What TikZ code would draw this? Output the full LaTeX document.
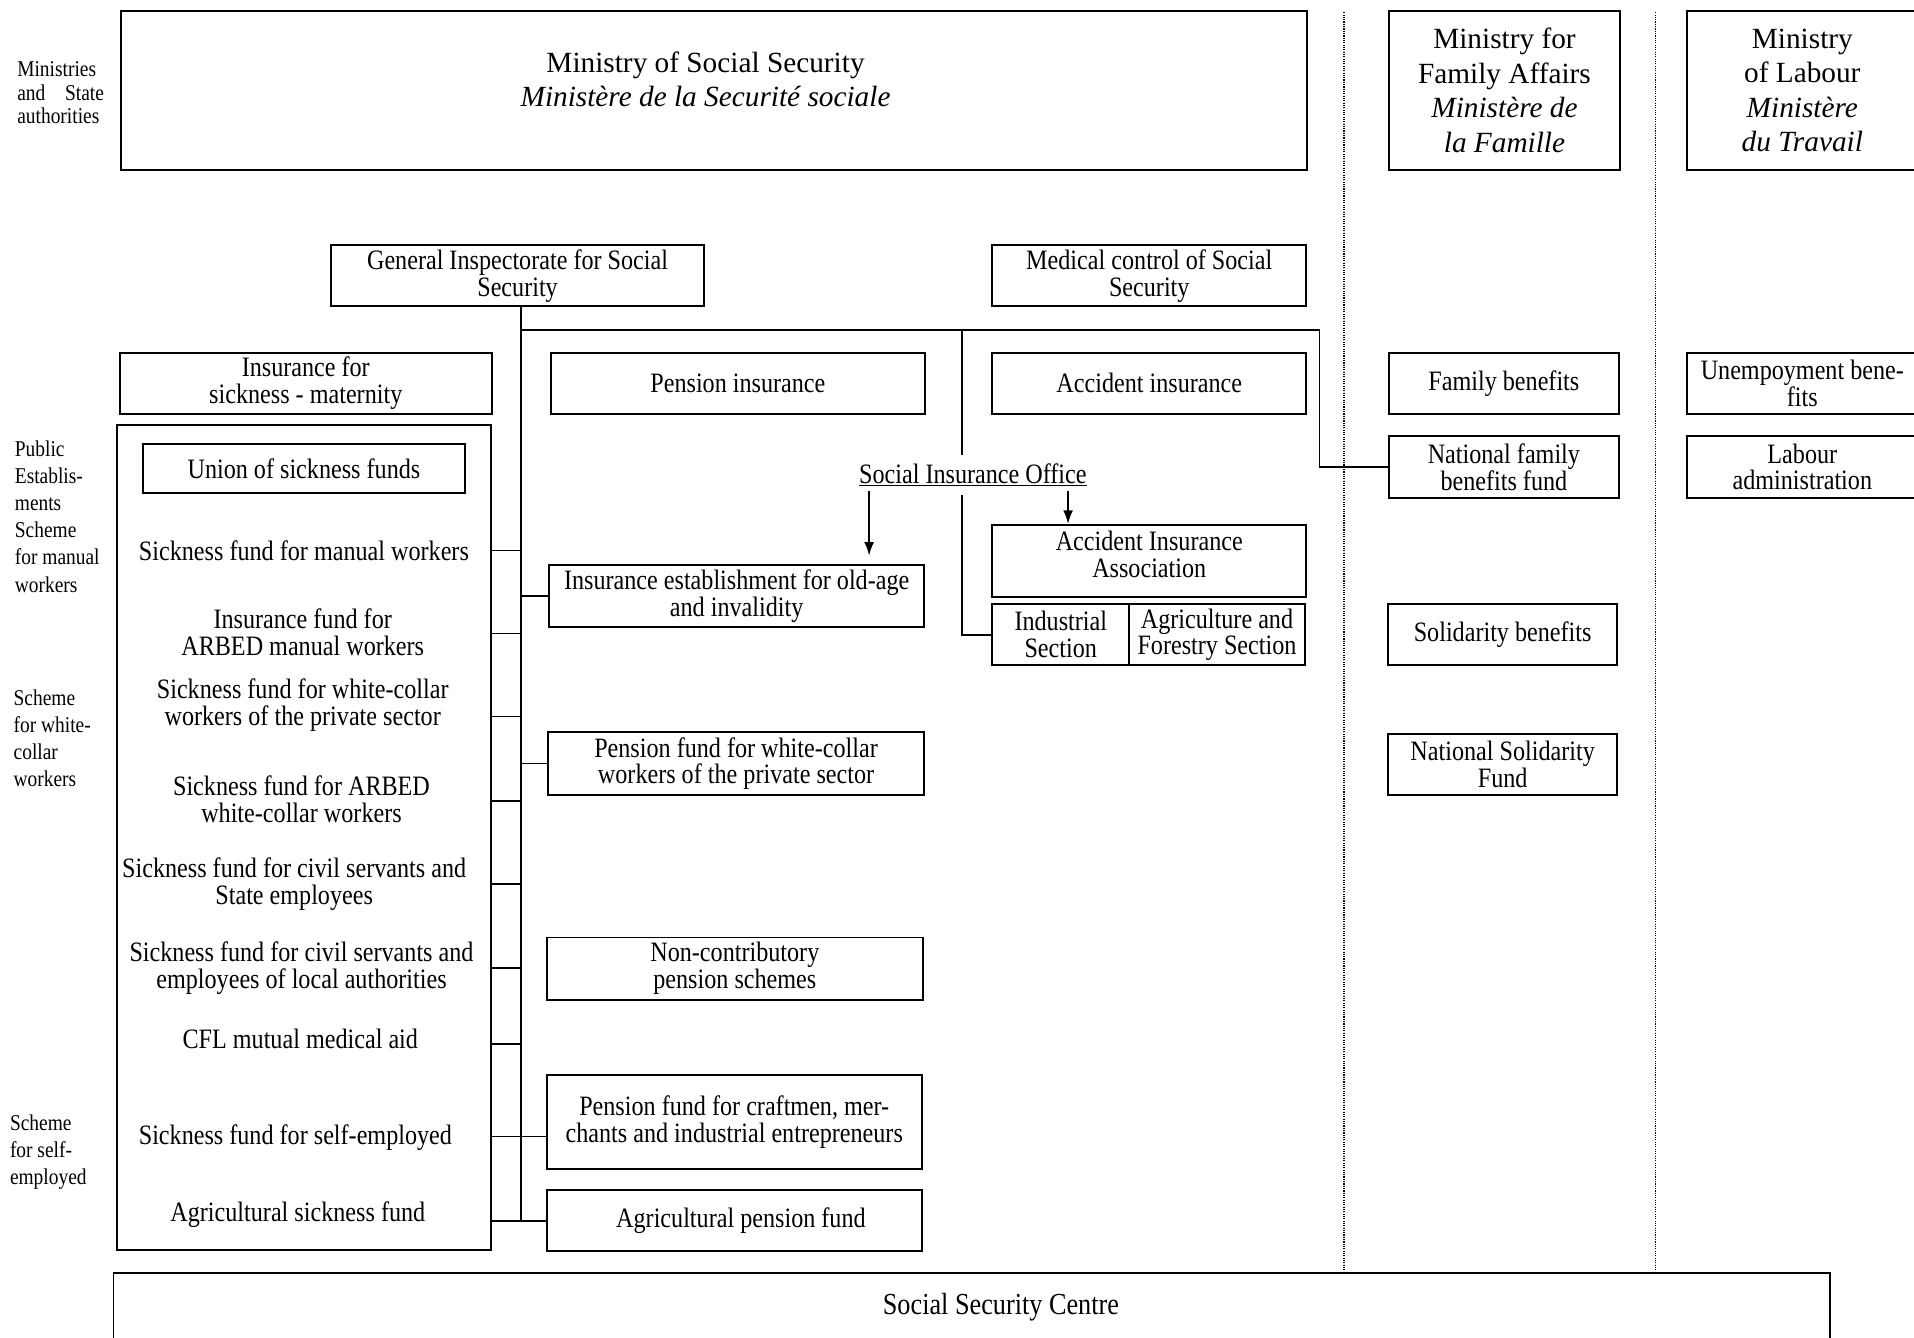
\documentclass[tikz,border=0pt]{standalone}
\usepackage{fontspec}
\setmainfont{Liberation Serif}
\newfontfamily\cond[FakeStretch=0.86]{Liberation Serif}
\usetikzlibrary{arrows.meta}
\newcommand\bx{\cond\fontsize{23}{22}\selectfont}
\newcommand\sidefont{\cond\fontsize{18.5}{22.2}\selectfont}
\newcommand\minfont{\fontsize{24}{28.3}\selectfont}
\begin{document}
\begin{tikzpicture}[x=1pt,y=-1pt,
  box/.style={draw, line width=1.6pt, align=center, inner sep=0pt, font=\bx},
  txt/.style={align=center, inner sep=0pt, font=\bx},
  side/.style={align=left, anchor=north west, inner sep=0pt, font=\sidefont},
  link/.style={line width=1.5pt},
  guide/.style={densely dotted, line width=0.9pt},
  arr/.style={line width=1.4pt, -{Latex[length=11pt,width=8pt]}}]
\useasboundingbox (0,0) rectangle (1568,1096);
\clip (0,0) rectangle (1568,1096);

% ministries
\node[box, minimum width=972pt, minimum height=130pt] (mss) at (585,74) {};
\node[txt, font=\minfont] (msst) at (578,65) {Ministry of Social Security\\{\itshape Ministère de la Securité sociale}};
\node[box, minimum width=189pt, minimum height=130pt, font=\minfont] (mfa) at (1232.5,74) {Ministry for\\Family Affairs\\{\itshape Ministère de}\\{\itshape la Famille}};
\node[box, minimum width=189pt, minimum height=130pt, font=\minfont] (mlab) at (1476.5,74) {Ministry\\of Labour\\{\itshape Ministère}\\{\itshape du Travail}};

% supervision
\node[box, minimum width=306pt, minimum height=50pt] (gi) at (424,226) {General Inspectorate for Social\\Security};
\node[box, minimum width=257pt, minimum height=50pt] (mc) at (941.5,226) {Medical control of Social\\Security};

% branches
\node[box, minimum width=305pt, minimum height=50pt] (ism) at (250.5,314) {Insurance for\\sickness - maternity};
\node[box, minimum width=307pt, minimum height=50pt] (pi) at (604.5,314) {Pension insurance};
\node[box, minimum width=257pt, minimum height=50pt] (ai) at (941.5,314) {Accident insurance};
\node[box, minimum width=188pt, minimum height=50pt] (fb) at (1232,314) {Family benefits};
\node[box, minimum width=189pt, minimum height=50pt] (ub) at (1476.5,314) {Unempoyment bene-\\fits};

% sickness funds
\node[box, minimum width=306pt, minimum height=676pt] (cont) at (249,686) {};
\node[box, minimum width=264pt, minimum height=40pt] (usf) at (249,384) {Union of sickness funds};
\node[txt] (sf1) at (249,451) {Sickness fund for manual workers};
\node[txt] (sf2) at (248,518) {Insurance fund for\\ARBED manual workers};
\node[txt] (sf3) at (248,577.5) {Sickness fund for white-collar\\workers of the private sector};
\node[txt] (sf4) at (247,655) {Sickness fund for ARBED\\white-collar workers};
\node[txt] (sf5) at (241,724) {Sickness fund for civil servants and\\State employees};
\node[txt] (sf6) at (247,793) {Sickness fund for civil servants and\\employees of local authorities};
\node[txt] (sf7) at (246,851) {CFL mutual medical aid};
\node[txt] (sf8) at (242,932) {Sickness fund for self-employed};
\node[txt] (sf9) at (244,995) {Agricultural sickness fund};

% pension funds
\node[box, minimum width=307pt, minimum height=51pt] (iei) at (603.5,488.5) {Insurance establishment for old-age\\and invalidity};
\node[box, minimum width=308pt, minimum height=51pt] (pfwc) at (603,625.5) {Pension fund for white-collar\\workers of the private sector};
\node[box, minimum width=308pt, minimum height=51pt] (ncp) at (602,793.5) {Non-contributory\\pension schemes};
\node[box, minimum width=307pt, minimum height=77pt] (pfcm) at (601.5,919.5) {Pension fund for craftmen, mer-\\chants and industrial entrepreneurs};
\node[box, minimum width=307pt, minimum height=50pt] (apf) at (601.5,1000) {\hspace*{11pt}Agricultural pension fund};

% accident insurance
\node[box, minimum width=257pt, minimum height=59pt] (aia) at (941.5,459.5) {};
\node[txt] (aiat) at (941.5,454) {Accident Insurance\\Association};
\node[box, minimum width=112pt, minimum height=50pt] (isec) at (869,520) {Industrial\\Section};
\node[box, minimum width=144pt, minimum height=50pt] (afs) at (997,520) {Agriculture and\\Forestry Section};

% family and labour
\node[box, minimum width=188pt, minimum height=51pt] (nfb) at (1232,382.5) {National family\\benefits fund};
\node[box, minimum width=188pt, minimum height=50pt] (sb) at (1231,520) {Solidarity benefits};
\node[box, minimum width=188pt, minimum height=50pt] (nsf) at (1231,626) {National Solidarity\\Fund};
\node[box, minimum width=189pt, minimum height=51pt] (la) at (1476.5,382.5) {Labour\\administration};

% centre
\node[box, minimum width=1406pt, minimum height=80pt] (ssc) at (796,1083) {};
\node[txt, font=\cond\fontsize{25}{28}\selectfont] (ssct) at (820,1071) {Social Security Centre};

% row labels
\node[side, font=\cond\fontsize{18.5}{19.5}\selectfont] (lmin) at (14,50) {Ministries\\\makebox[71pt][s]{and State}\\authorities};
\node[side] (lpub) at (12,361) {Public\\Establis-\\ments\\Scheme\\for manual\\workers};
\node[side] (lwc) at (11,565) {Scheme\\for white-\\collar\\workers};
\node[side] (lse) at (8,913) {Scheme\\for self-\\employed};

% column separators
\coordinate (d1) at (1101,10);
\coordinate (d2) at (1356,10);
\draw[guide] (d1) -- (d1 |- ssc.north);
\draw[guide] (d2) -- (d2 |- ssc.north);

% connectors
\coordinate (j1) at (427,270);
\coordinate (j2) at (1081,270);
\coordinate (j3) at (788,270);
\draw[link] (j1 |- gi.south) -- (j1 |- apf.west);
\draw[link] (j1) -- (j2) |- (nfb.west);
\draw[link] (j3) |- (isec.west);
\foreach \n/\y in {t1/451,t2/519,t3/587,t4/656,t5/724,t6/793,t7/855}{
  \coordinate (\n) at (427,\y);
  \draw[link] (\n -| cont.east) -- (\n);
}
\draw[link] (iei.west) -- (iei.west -| j1);
\draw[link] (pfwc.west) -- (pfwc.west -| j1);
\coordinate (t8) at (427,931);
\draw[link] (t8 -| cont.east) -- (t8 -| pfcm.west);
\draw[link] (apf.west -| cont.east) -- (apf.west);

% social insurance office
\node[txt, fill=white, inner xsep=3pt, inner ysep=7pt] (sio) at (797,389) {\underline{Social Insurance Office}};
\coordinate (a1) at (712,0);
\coordinate (a2) at (875,0);
\draw[arr, shorten >=7pt, shorten <=-3pt] (sio.south -| a1) -- (a1 |- iei.north);
\draw[arr, shorten <=-3pt] (sio.south -| a2) -- (a2 |- aia.north);
\end{tikzpicture}
\end{document}
